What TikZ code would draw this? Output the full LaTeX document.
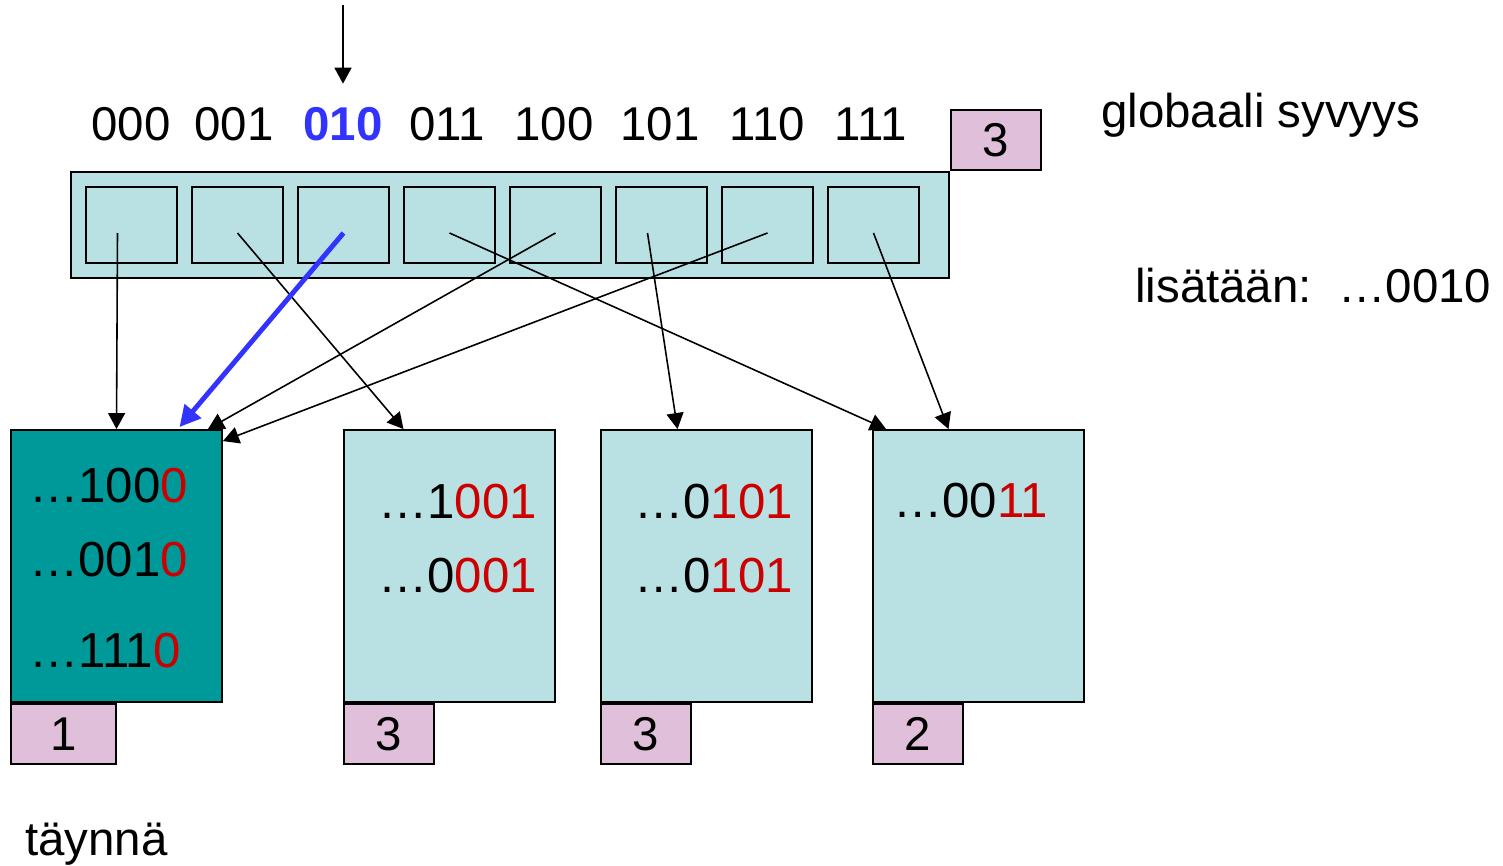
\documentclass[tikz,border=0pt]{standalone}
\usepackage{fontspec}
\setmainfont{Liberation Sans}
\usetikzlibrary{arrows.meta}
\definecolor{dirfill}{RGB}{185,224,226}
\definecolor{fullfill}{RGB}{0,153,153}
\definecolor{depthfill}{RGB}{224,191,219}
\definecolor{hlblue}{RGB}{51,51,255}
\definecolor{bitred}{RGB}{204,0,0}
\begin{document}
\begin{tikzpicture}[x=0.02cm, y=-0.02cm,
    font=\fontsize{27}{33}\selectfont,
    box/.style={draw, line width=1.1pt, inner sep=0pt},
    cell/.style={box, fill=dirfill, minimum width=1.82cm, minimum height=1.52cm},
    bucket/.style={box, minimum width=4.22cm, minimum height=5.44cm},
    depth/.style={box, fill=depthfill, minimum width=1.8cm, minimum height=1.2cm, anchor=north west},
    key/.style={anchor=base west, font=\fontsize{28}{34}\selectfont},
    ptr/.style={line width=0.9pt, -{Triangle[length=0.32cm, width=0.34cm]}},
    newptr/.style={hlblue, line width=2.8pt, -{Triangle[length=0.42cm, width=0.42cm]}}]
  \useasboundingbox (0,0) rectangle (1503,865);
  % hakemisto
  \node [box, fill=dirfill, minimum width=17.56cm, minimum height=2.12cm] (dir) at (510,225) {};
  \node [cell] (c0) at (131.5,225) {};
  \node [cell] (c1) at (237.5,225) {};
  \node [cell] (c2) at (343.5,225) {};
  \node [cell] (c3) at (449.5,225) {};
  \node [cell] (c4) at (555.5,225) {};
  \node [cell] (c5) at (661.5,225) {};
  \node [cell] (c6) at (767.5,225) {};
  \node [cell] (c7) at (873.5,225) {};
  \node [anchor=base] (l0) at (131,140) {000};
  \node [anchor=base] (l1) at (234,140) {001};
  \node [anchor=base, hlblue] (l2) at (343,140) {\textbf{010}};
  \node [anchor=base] (l3) at (447,140) {011};
  \node [anchor=base] (l4) at (554,140) {100};
  \node [anchor=base] (l5) at (660,140) {101};
  \node [anchor=base] (l6) at (767,140) {110};
  \node [anchor=base] (l7) at (871,140) {111};
  \node [depth, anchor=south west] (gd) at (dir.north east) {3};
  \node [anchor=base west] (glob) at (1095,127) {globaali syvyys};
  \node [anchor=base west] (ins) at (1129,302) {lisätään:\ \ …0010};
  % ämpärit
  \node [bucket, fill=fullfill] (b1) at (116.5,566) {};
  \node [bucket, fill=dirfill] (b2) at (449.5,566) {};
  \node [bucket, fill=dirfill] (b3) at (706.5,566) {};
  \node [bucket, fill=dirfill] (b4) at (978.5,566) {};
  \node [depth, minimum width=2.1cm] (d1) at (b1.south west) {1};
  \node [depth] (d2) at (b2.south west) {3};
  \node [depth] (d3) at (b3.south west) {3};
  \node [depth] (d4) at (b4.south west) {2};
  \node [key] (k11) at (23,502) {…100\textcolor{bitred}{0}};
  \node [key] (k12) at (23,576) {…001\textcolor{bitred}{0}};
  \node [key] (k13) at (23,667) {…111\textcolor{bitred}{0}};
  \node [key] (k21) at (372,518) {…1\textcolor{bitred}{001}};
  \node [key] (k22) at (372,592) {…0\textcolor{bitred}{001}};
  \node [key] (k31) at (628,518) {…0\textcolor{bitred}{101}};
  \node [key] (k32) at (628,592) {…0\textcolor{bitred}{101}};
  \node [key] (k41) at (887,517) {…00\textcolor{bitred}{11}};
  \node [anchor=base west] (full) at (19,855) {täynnä};
  % osoittimet
  \coordinate (entry) at (343,5);
  \draw [ptr] (entry) -- ([yshift=0.34cm]l2.north);
  \draw [ptr] ([shift={(-14,8)}]c0.center) -- (b1.north);
  \draw [ptr] ([shift={(0,8)}]c1.center) -- ([shift={(-46,0)}]b2.north);
  \draw [ptr] ([shift={(0,8)}]c3.center) -- ([shift={(14,0)}]b4.north west);
  \draw [ptr] ([shift={(0,8)}]c4.center) -- ([shift={(-15,0)}]b1.north east);
  \draw [ptr] ([shift={(-14,8)}]c5.center) -- ([shift={(-29,0)}]b3.north);
  \draw [ptr] ([shift={(0,8)}]c6.center) -- ([shift={(0,12)}]b1.north east);
  \draw [ptr] ([shift={(0,8)}]c7.center) -- ([shift={(-30,0)}]b4.north);
  \draw [newptr] ([shift={(0,8)}]c2.center) -- ([shift={(63,-2)}]b1.north);
\end{tikzpicture}
\end{document}
